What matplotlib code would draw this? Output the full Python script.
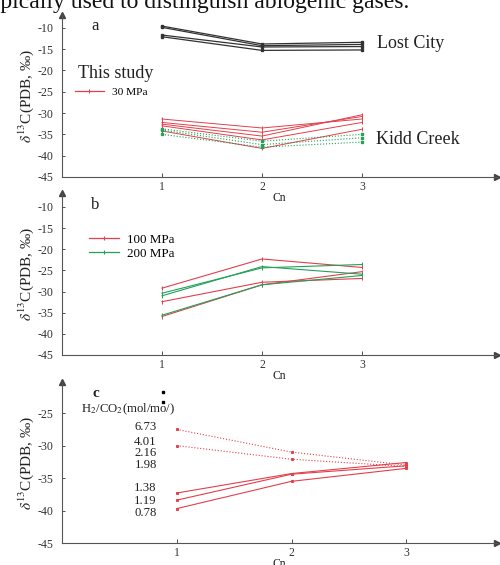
import matplotlib
matplotlib.use("Agg")
import matplotlib.pyplot as plt
from matplotlib.lines import Line2D
import numpy as np

plt.rcParams['font.family'] = ['Liberation Serif', 'DejaVu Serif']
plt.rcParams['mathtext.fontset'] = 'stix'

cn = [1, 2, 3]
cn_ticks = [1, 2, 3]

# Panel a
lost_city = [
    [-9.6, -13.8, -13.4],
    [-9.9, -14.2, -13.9],
    [-11.7, -14.5, -14.4],
    [-12.1, -15.3, -15.2],
]
study_30mpa = [
    [-31.4, -33.5, -31.4],
    [-32.2, -34.5, -30.8],
    [-32.6, -35.4, -30.4],
    [-33.0, -36.3, -32.2],
    [-34.2, -38.3, -33.8],
]
kidd_creek = [
    [-33.7, -36.6, -35.0],
    [-34.0, -37.4, -35.8],
    [-35.0, -38.0, -36.8],
]

# Panel b
mpa100 = [
    [-29.2, -22.3, -24.3],
    [-32.4, -27.8, -26.9],
    [-35.9, -28.4, -25.3],
]
mpa200 = [
    [-30.4, -24.4, -23.6],
    [-31.0, -24.1, -25.9],
    [-35.6, -28.4, -26.2],
]

# Panel c
h2co2_dotted = [
    [-27.5, -31.0, -33.0],
    [-30.0, -32.1, -33.2],
]
h2co2_solid = [
    [-37.3, -34.3, -32.6],
    [-38.4, -34.4, -33.1],
    [-39.7, -35.5, -33.5],
]
ratio_labels = ['6.73', '4.01', '2.16', '1.98', '1.38', '1.19', '0.78']
ratio_label_y = [-27.2, -29.5, -31.2, -33.0, -36.5, -38.5, -40.4]
stray_x = [0.88, 0.88]
stray_y = [-21.7, -23.3]

yticks_ab = [-10, -15, -20, -25, -30, -35, -40, -45]
yticks_c = [-25, -30, -35, -40, -45]

RED = '#e2404c'
GREEN = '#23a05a'
BLACK = '#333333'
TXT = '#222222'

W, H = 500, 565
fig = plt.figure(figsize=(W / 100, H / 100), dpi=100)

def add_ax(bottom_px, top_px):
    ax = fig.add_axes([62 / W, 1 - bottom_px / H, 435 / W, (bottom_px - top_px) / H])
    ax.patch.set_alpha(0)
    return ax

def style(ax, xlim, ylim, yticks):
    ax.set_xlim(*xlim)
    ax.set_ylim(*ylim)
    ax.set_yticks(yticks)
    ax.set_yticklabels([str(t) for t in yticks])
    ax.set_xticks(cn_ticks)
    ax.set_xticklabels([str(t) for t in cn_ticks])
    for s in ['top', 'right']:
        ax.spines[s].set_visible(False)
    for s in ['left', 'bottom']:
        ax.spines[s].set_linewidth(0.8)
        ax.spines[s].set_color('#555555')
    ax.tick_params(axis='y', direction='in', length=2, width=0.6, labelsize=8.6, pad=6, colors='#333333')
    ax.tick_params(axis='x', direction='in', length=3, width=0.6, labelsize=8.4, pad=3, colors='#333333')
    ax.set_xlabel('Cn', fontsize=8.4, labelpad=-1, color=TXT)
    ax.set_ylabel(r'$\delta^{13}$C(PDB, ‰)', fontsize=11, labelpad=1, color=TXT)
    ax.plot(1, 0, '>', color='#444444', ms=4, transform=ax.transAxes, clip_on=False)
    ax.plot(0, 1, '^', color='#444444', ms=4, transform=ax.transAxes, clip_on=False)

# ---- Panel a
axa = add_ax(177, 15)
for row in lost_city:
    axa.plot(cn, row, '-', color=BLACK, lw=0.9, marker='s', ms=2.0)
for row in study_30mpa:
    axa.plot(cn, row, '-', color=RED, lw=0.7, marker='|', ms=3, mew=0.7)
for row in kidd_creek:
    axa.plot(cn, row, ':', color=GREEN, lw=0.8, marker='s', ms=1.6)
style(axa, (0, 4.35), (-45, -7), yticks_ab)
axa.text(0.067, 0.93, 'a', transform=axa.transAxes, fontsize=12, va='center', color=TXT)
axa.text(3.15, -13.8, 'Lost City', fontsize=13, va='center', color=TXT)
axa.text(3.14, -36.3, 'Kidd Creek', fontsize=13, va='center', color=TXT)
axa.text(0.037, 0.636, 'This study', transform=axa.transAxes, fontsize=13, va='center', color=TXT)
h30 = Line2D([], [], color=RED, lw=0.9, marker='|', ms=3, mew=0.8)
axa.legend([h30], ['30 MPa'], loc='center left', bbox_to_anchor=(0.029, 0.525), frameon=False,
           fontsize=8.2, handlelength=2.6, handletextpad=0.7, borderpad=0, borderaxespad=0)

# ---- Panel b
axb = add_ax(355, 193)
for row in mpa100:
    axb.plot(cn, row, '-', color=RED, lw=0.8, marker='|', ms=2.5, mew=0.7)
for row in mpa200:
    axb.plot(cn, row, '-', color=GREEN, lw=0.8, marker='|', ms=2.5, mew=0.7)
style(axb, (0, 4.35), (-45, -6.7), yticks_ab)
axb.text(0.067, 0.926, 'b', transform=axb.transAxes, fontsize=12, va='center', color=TXT)
h100 = Line2D([], [], color=RED, lw=0.9, marker='|', ms=2.5, mew=0.8)
h200 = Line2D([], [], color=GREEN, lw=0.9, marker='|', ms=2.5, mew=0.8)
axb.legend([h100, h200], ['100 MPa', '200 MPa'], loc='center left', bbox_to_anchor=(0.062, 0.667),
           frameon=False, fontsize=9.4, handlelength=2.3, handletextpad=0.6, borderpad=0,
           borderaxespad=0, labelspacing=0.15)

# ---- Panel c
axc = add_ax(543, 382)
for row in h2co2_dotted:
    axc.plot(cn, row, ':', color=RED, lw=0.8, marker='s', ms=1.2)
for row in h2co2_solid:
    axc.plot(cn, row, '-', color=RED, lw=0.8, marker='s', ms=1.2)
axc.plot(stray_x, stray_y, 's', color='black', ms=2.0, ls='none')
style(axc, (0, 3.79), (-45, -20.2), yticks_c)
axc.text(0.07, 0.93, 'c', transform=axc.transAxes, fontsize=11, va='center', fontweight='bold', color=TXT)
axc.text(0.044, 0.832, r'H$_2$/CO$_2$(mol/mo/)', transform=axc.transAxes, fontsize=9.2,
         va='center', color=TXT)
for lab, yy in zip(ratio_labels, ratio_label_y):
    axc.text(0.826, yy, lab, fontsize=9.2, ha='right', va='center', color=TXT)

# clipped text from the page above the figure
fig.text(-0.036, 1 - 8 / H, 'typically used to distinguish abiogenic gases.', fontsize=17,
         ha='left', va='baseline', color='#111111')

fig.savefig('out.png', dpi=100)
